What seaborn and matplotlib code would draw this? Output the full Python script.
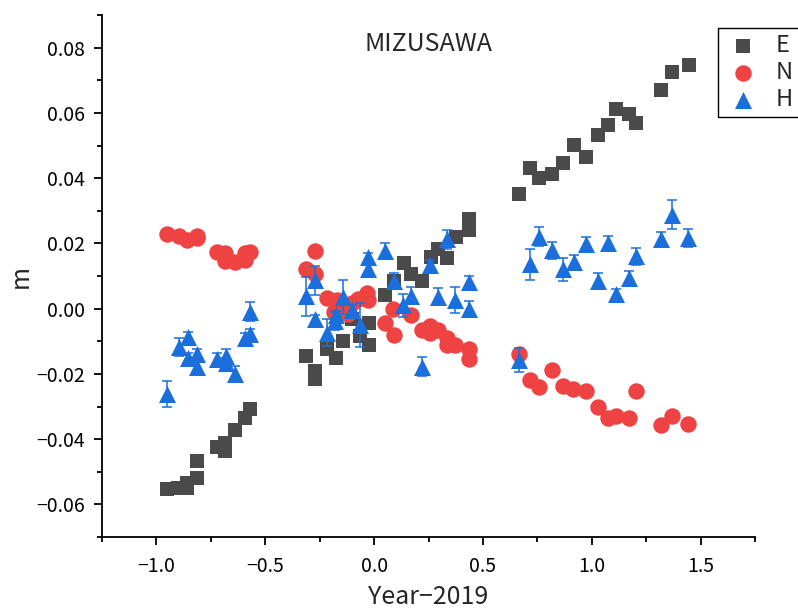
import numpy as np
import pandas as pd
import matplotlib
matplotlib.use('Agg')
import matplotlib.pyplot as plt
from matplotlib.ticker import MultipleLocator
import seaborn as sns

# E component (m) vs Year-2019
e_year = [-0.950, -0.899, -0.858, -0.858, -0.812, -0.812, -0.720, -0.683, -0.683, -0.638, -0.592, -0.569,
          -0.312, -0.271, -0.271, -0.216, -0.174, -0.142, -0.101, -0.064, -0.023, -0.023,
          0.050, 0.092, 0.138, 0.170, 0.220, 0.261, 0.294, 0.335, 0.376, 0.436, 0.436,
          0.667, 0.716, 0.757, 0.817, 0.867, 0.917, 0.972, 1.028, 1.073, 1.110, 1.170, 1.202,
          1.317, 1.367, 1.445]
e_val = [-0.0552, -0.0549, -0.0549, -0.0533, -0.0518, -0.0466, -0.0423, -0.0411, -0.0435, -0.0371, -0.0334, -0.0307,
         -0.0144, -0.0190, -0.0215, -0.0123, -0.0150, -0.0098, -0.0031, -0.0083, -0.0043, -0.0110,
         0.0043, 0.0086, 0.0141, 0.0107, 0.0086, 0.0159, 0.0184, 0.0156, 0.0221, 0.0276, 0.0242,
         0.0352, 0.0430, 0.0399, 0.0414, 0.0445, 0.0503, 0.0466, 0.0533, 0.0564, 0.0613, 0.0598, 0.0570,
         0.0671, 0.0724, 0.0748]

# N component
n_year = [-0.950, -0.894, -0.858, -0.812, -0.812, -0.720, -0.683, -0.683, -0.638, -0.592, -0.592, -0.569,
          -0.312, -0.271, -0.271, -0.216, -0.183, -0.170, -0.156, -0.142, -0.119, -0.101, -0.073, -0.032, -0.028,
          0.050, 0.087, 0.092, 0.170, 0.220, 0.257, 0.257, 0.294, 0.335, 0.335, 0.372, 0.436, 0.436,
          0.665, 0.716, 0.757, 0.817, 0.867, 0.913, 0.972, 1.028, 1.073, 1.110, 1.170, 1.202,
          1.317, 1.367, 1.440]
n_val = [0.0230, 0.0224, 0.0210, 0.0224, 0.0215, 0.0175, 0.0169, 0.0147, 0.0144, 0.0150, 0.0172, 0.0175,
         0.0120, 0.0178, 0.0107, 0.0034, -0.0009, 0.0025, -0.0006, 0.0009, -0.0015, 0.0018, 0.0031, 0.0049, 0.0025,
         -0.0043, 0.0000, -0.0080, -0.0021, -0.0064, -0.0052, -0.0074, -0.0064, -0.0089, -0.0110, -0.0110,
         -0.0123, -0.0153,
         -0.0138, -0.0218, -0.0239, -0.0187, -0.0236, -0.0245, -0.0254, -0.0303, -0.0334, -0.0328, -0.0334, -0.0254,
         -0.0356, -0.0328, -0.0353]

# H component with error
h_year = [-0.950, -0.894, -0.853, -0.853, -0.812, -0.812, -0.720, -0.679, -0.679, -0.638, -0.592, -0.569, -0.569,
          -0.312, -0.271, -0.271, -0.216, -0.179, -0.174, -0.142, -0.101, -0.064, -0.028, -0.028,
          0.050, 0.092, 0.133, 0.170, 0.220, 0.257, 0.294, 0.335, 0.372, 0.436, 0.436,
          0.665, 0.716, 0.757, 0.817, 0.867, 0.917, 0.972, 1.028, 1.073, 1.110, 1.170, 1.202,
          1.317, 1.367, 1.440]
h_val = [-0.0262, -0.0117, -0.0086, -0.0150, -0.0138, -0.0178, -0.0153, -0.0144, -0.0166, -0.0199, -0.0089, -0.0077,
         -0.0009,
         0.0038, 0.0087, -0.0031, -0.0074, -0.0037, -0.0021, 0.0037, -0.0003, -0.0051, 0.0157, 0.0122,
         0.0178, 0.0086, 0.0010, 0.0040, -0.0178, 0.0135, 0.0037, 0.0212, 0.0027, 0.0081, -0.0001,
         -0.0158, 0.0136, 0.0221, 0.0179, 0.0121, 0.0143, 0.0199, 0.0084, 0.0202, 0.0044, 0.0094, 0.0160,
         0.0213, 0.0288, 0.0216]
h_err = [0.0039, 0.0028, 0.0015, 0.0015, 0.0015, 0.0020, 0.0018, 0.0020, 0.0015, 0.0022, 0.0015, 0.0015, 0.0028,
         0.0060, 0.0044, 0.0012, 0.0042, 0.0028, 0.0015, 0.0052, 0.0015, 0.0067, 0.0015, 0.0015,
         0.0024, 0.0022, 0.0036, 0.0025, 0.0030, 0.0015, 0.0026, 0.0028, 0.0040, 0.0020, 0.0023,
         0.0036, 0.0048, 0.0030, 0.0026, 0.0035, 0.0020, 0.0020, 0.0024, 0.0020, 0.0015, 0.0020, 0.0027,
         0.0022, 0.0044, 0.0027]

c_e, c_n, c_h = '#4a4a4a', '#ef4242', '#1b6fdd'

sns.set_style('ticks')
plt.rcParams['font.family'] = ['Noto Sans CJK JP', 'DejaVu Sans']
plt.rcParams['axes.unicode_minus'] = True

fig = plt.figure(figsize=(7.98, 6.13), dpi=100)
ax = fig.add_axes([102 / 798, 1 - 537 / 613, (755 - 102) / 798, (537 - 15) / 613])

df_e = pd.DataFrame({'x': e_year, 'y': e_val})
df_n = pd.DataFrame({'x': n_year, 'y': n_val})
df_h = pd.DataFrame({'x': h_year, 'y': h_val})

sns.scatterplot(data=df_e, x='x', y='y', marker='s', s=105, color=c_e, linewidth=0, ax=ax, label='E', zorder=3)
sns.scatterplot(data=df_n, x='x', y='y', marker='o', s=140, color=c_n, linewidth=0, ax=ax, label='N', zorder=4)
ax.errorbar(h_year, h_val, yerr=h_err, fmt='none', ecolor=c_h, elinewidth=1.1, capsize=3.3,
            capthick=1.1, zorder=5)
sns.scatterplot(data=df_h, x='x', y='y', marker='^', s=150, color=c_h, linewidth=0, ax=ax, label='H', zorder=6)

ax.set_xlim(-1.25, 1.75)
ax.set_ylim(-0.07, 0.09)
ax.xaxis.set_minor_locator(MultipleLocator(0.25))
ax.yaxis.set_minor_locator(MultipleLocator(0.01))
ax.set_xticks(np.arange(-1.0, 1.51, 0.5))
ax.set_yticks(np.arange(-0.06, 0.081, 0.02))
ax.xaxis.set_major_formatter(plt.FuncFormatter(lambda v, p: f'{v:.1f}'.replace('-', '\u2212')))
ax.yaxis.set_major_formatter(plt.FuncFormatter(lambda v, p: f'{v:.2f}'.replace('-', '\u2212')))

for side in ['top', 'right']:
    ax.spines[side].set_visible(False)
for side in ['left', 'bottom']:
    ax.spines[side].set_linewidth(1.3)
    ax.spines[side].set_color('black')

ax.tick_params(axis='both', which='major', length=6, width=1.3, labelsize=14, color='black', labelcolor='black')
ax.tick_params(axis='both', which='minor', length=3.5, width=1.3, color='black')
ax.tick_params(axis='x', which='major', pad=8)
ax.tick_params(axis='y', which='major', pad=6)

ax.set_xlabel('Year\u22122019', fontsize=18, labelpad=5)
ax.set_ylabel('m', fontsize=18, labelpad=2)
ax.text(0.5, 0.944, 'MIZUSAWA', transform=ax.transAxes, ha='center', va='center', fontsize=18)

leg = ax.legend(loc='upper left', bbox_to_anchor=(718 / 798, 1 - 28 / 613), bbox_transform=fig.transFigure,
                frameon=True, fancybox=False, fontsize=17, handletextpad=0.6, labelspacing=0.17,
                borderpad=0.25, handlelength=1.6, borderaxespad=0)
leg.get_frame().set_edgecolor('black')
leg.get_frame().set_linewidth(1.0)
leg.get_frame().set_alpha(1)

fig.savefig('out.png', dpi=100)
